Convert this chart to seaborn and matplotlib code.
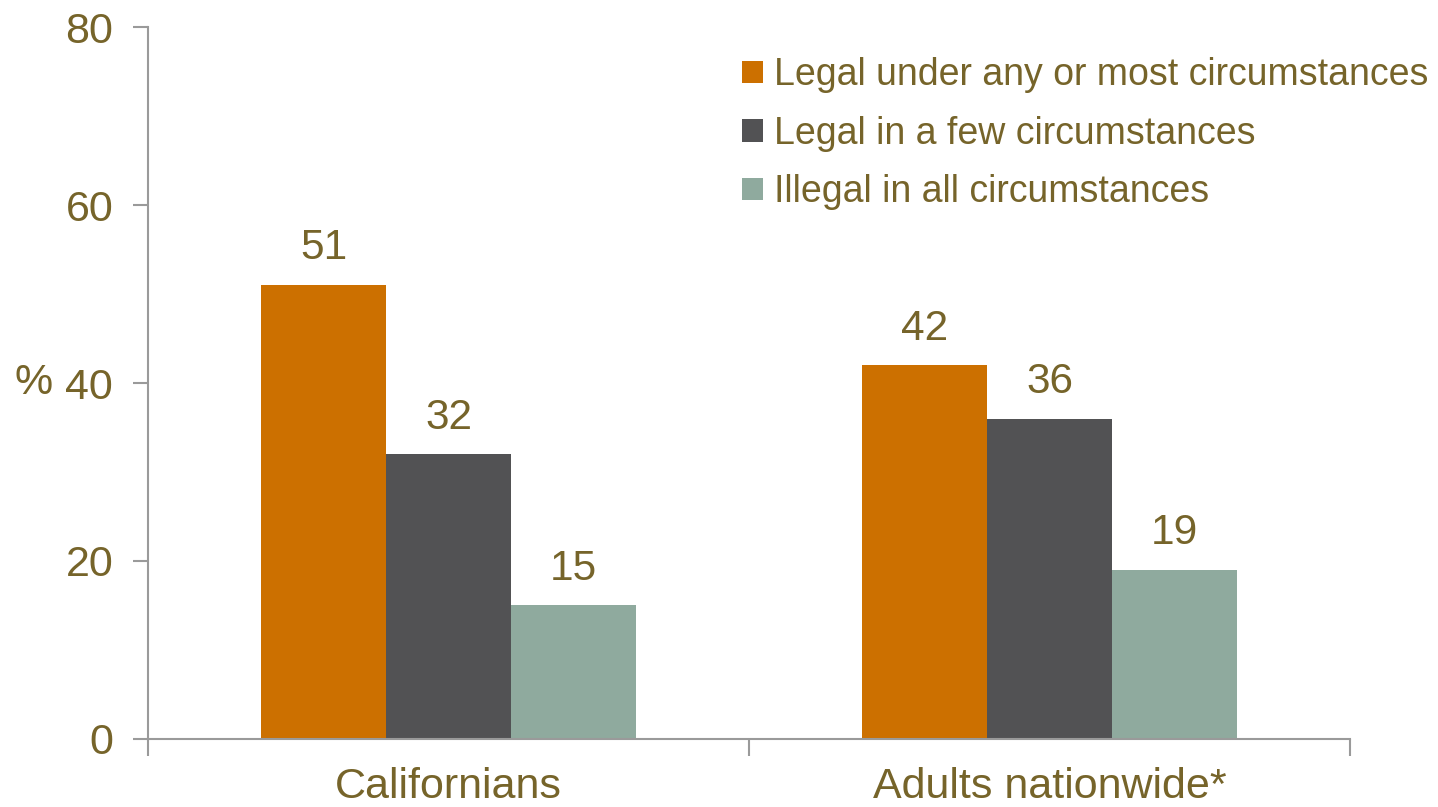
import pandas as pd
import matplotlib.pyplot as plt
import seaborn as sns

groups = ["Californians", "Adults nationwide*"]
responses = ["Legal under any or most circumstances",
             "Legal in a few circumstances",
             "Illegal in all circumstances"]
values = {
    "Californians": [51, 32, 15],
    "Adults nationwide*": [42, 36, 19],
}
colors = ["#CC7000", "#525254", "#8FAA9E"]
text_color = "#76642A"
axis_color = "#9A9A9A"

rows = []
for g in groups:
    for r, v in zip(responses, values[g]):
        rows.append({"group": g, "response": r, "value": v})
df = pd.DataFrame(rows)

sns.set_style("white")
plt.rcParams['font.family'] = ['Liberation Sans', 'DejaVu Sans']

fig = plt.figure(figsize=(14.38, 8.07), dpi=100)
ax = fig.add_axes([0.1029, 0.0843, 0.836, 0.8822])

sns.barplot(data=df, x="group", y="value", hue="response", order=groups,
            hue_order=responses, palette=colors, width=0.624, ax=ax,
            saturation=1, errorbar=None, linewidth=0)

for cont in ax.containers:
    ax.bar_label(cont, labels=[f"{v:.0f}" for v in cont.datavalues],
                 padding=12, fontsize=30.5, color=text_color)

ax.set_ylim(0, 80)
ax.set_xlim(-0.5, 1.5)
ax.set_yticks([0, 20, 40, 60, 80])
ax.set_xticks([0, 1])
ax.set_xticks([-0.5, 0.5, 1.5], minor=True)
ax.tick_params(axis="x", which="major", length=0, labelsize=31,
               labelcolor=text_color, pad=20)
ax.tick_params(axis="x", which="minor", length=12, width=1.5,
               color=axis_color, direction="out", bottom=True)
ax.tick_params(axis="y", length=11, width=1.5, color=axis_color,
               direction="out", labelsize=31, labelcolor=text_color, pad=14,
               left=True)
ax.set_xlabel("")
ax.set_ylabel("%", rotation=0, fontsize=31, color=text_color,
              va="center", ha="left")
ax.yaxis.set_label_coords(-0.111, 0.5)

sns.despine(ax=ax)
for side in ["left", "bottom"]:
    ax.spines[side].set_color(axis_color)
    ax.spines[side].set_linewidth(1.5)

leg = ax.legend(loc="upper right", bbox_to_anchor=(1.093, 1.005), frameon=False,
                fontsize=27, handlelength=0.55, handleheight=0.55,
                handletextpad=0.3, labelspacing=0.6)
for t in leg.get_texts():
    t.set_color(text_color)

fig.savefig("out.png", dpi=100)
